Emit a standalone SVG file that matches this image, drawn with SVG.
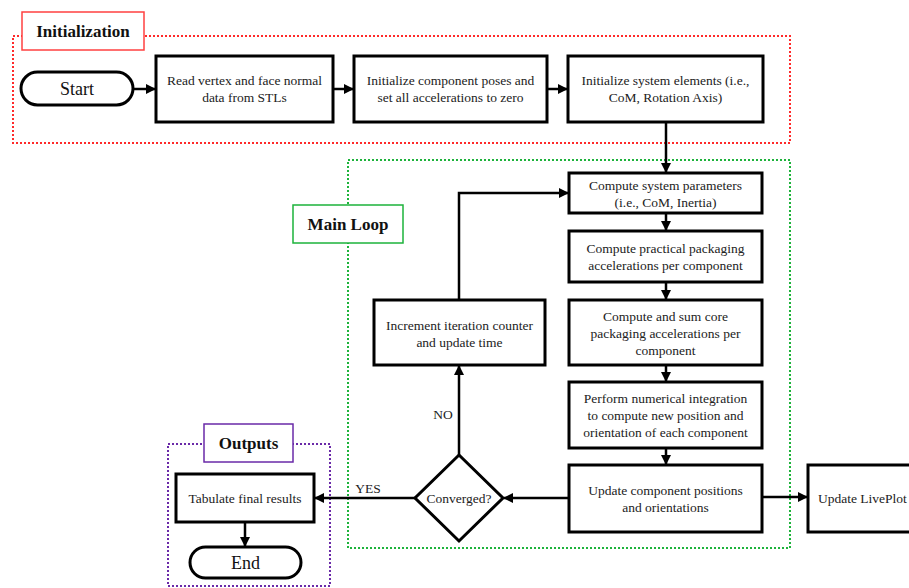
<svg xmlns="http://www.w3.org/2000/svg" width="909" height="588" viewBox="0 0 909 588">
<defs>
<marker id="ah" viewBox="0 0 10 10" refX="9" refY="5" markerWidth="4" markerHeight="4" orient="auto" markerUnits="strokeWidth">
<path d="M0,0 L10,5 L0,10 z" fill="#000"/>
</marker>
<style>
.box{fill:#fff;stroke:#000;stroke-width:3}
.t{font-family:'Liberation Serif','Times New Roman','DejaVu Serif',serif;font-size:13.5px;fill:#222;text-anchor:middle}
.tl{font-family:'Liberation Serif','Times New Roman','DejaVu Serif',serif;font-size:18px;fill:#111;text-anchor:middle}
.ttl{font-family:'Liberation Serif','Times New Roman','DejaVu Serif',serif;font-size:17px;font-weight:bold;fill:#111;text-anchor:middle}
.c{fill:none;stroke:#000;stroke-width:2.5;marker-end:url(#ah)}
.lbl{font-family:'Liberation Serif','Times New Roman','DejaVu Serif',serif;font-size:13.5px;fill:#222;text-anchor:middle}
</style>
</defs>
<rect width="909" height="588" fill="#fff"/>

<g id="groups">
<rect x="13" y="36" width="777" height="107" fill="none" stroke="#ff2a2a" stroke-width="2" stroke-dasharray="2,2"/>
<rect x="348" y="160" width="442" height="388" fill="none" stroke="#1db33b" stroke-width="2" stroke-dasharray="2,2"/>
<rect x="168" y="444" width="162" height="142" fill="none" stroke="#6a2aa8" stroke-width="2" stroke-dasharray="2,2"/>
</g>

<g id="label-init">
<rect x="22" y="12" width="122" height="38" fill="#fff" stroke="#ff4040" stroke-width="1.5"/>
<text class="ttl" x="83" y="37" font-family="Liberation Serif, serif">Initialization</text>
</g>
<g id="label-main">
<rect x="293" y="205" width="110" height="38" fill="#fff" stroke="#1db33b" stroke-width="1.5"/>
<text class="ttl" x="348" y="230" font-family="Liberation Serif, serif">Main Loop</text>
</g>
<g id="label-out">
<rect x="204" y="424" width="89" height="38" fill="#fff" stroke="#6a2aa8" stroke-width="1.5"/>
<text class="ttl" x="248.5" y="449" font-family="Liberation Serif, serif">Outputs</text>
</g>

<g id="connectors">
<path class="c" d="M133,89 L155,89"/>
<path class="c" d="M333,89 L353,89"/>
<path class="c" d="M547,89 L567,89"/>
<path class="c" d="M666,122 L666,172"/>
<path class="c" d="M666,213 L666,230"/>
<path class="c" d="M666,282 L666,299"/>
<path class="c" d="M666,365 L666,381"/>
<path class="c" d="M666,448 L666,464"/>
<path class="c" d="M762,497 L807,497"/>
<path class="c" d="M569,498 L504,498"/>
<path class="c" d="M415,498 L315,498"/>
<path class="c" d="M459,455 L459,366"/>
<path class="c" d="M459,300 L459,193 L568,193"/>
<path class="c" d="M245,522 L245,546"/>
<text class="lbl" x="443" y="419">NO</text>
<text class="lbl" x="368" y="493">YES</text>
</g>

<g id="start">
<rect class="box" x="21" y="72" width="112" height="33" rx="16.5"/>
<text class="tl" x="77" y="95">Start</text>
</g>
<g id="read">
<rect class="box" x="156" y="56" width="177" height="66"/>
<text class="t" x="244.5" y="85">Read vertex and face normal</text>
<text class="t" x="244.5" y="102">data from STLs</text>
</g>
<g id="initpose">
<rect class="box" x="354" y="56" width="193" height="66"/>
<text class="t" x="450.5" y="85">Initialize component poses and</text>
<text class="t" x="450.5" y="102">set all accelerations to zero</text>
</g>
<g id="initsys">
<rect class="box" x="568" y="56" width="195" height="66"/>
<text class="t" x="665.5" y="85">Initialize system elements (i.e.,</text>
<text class="t" x="665.5" y="102">CoM, Rotation Axis)</text>
</g>
<g id="compsys">
<rect class="box" x="569" y="173" width="193" height="40"/>
<text class="t" x="665.5" y="190">Compute system parameters</text>
<text class="t" x="665.5" y="207">(i.e., CoM, Inertia)</text>
</g>
<g id="comppract">
<rect class="box" x="569" y="231" width="193" height="51"/>
<text class="t" x="665.5" y="253">Compute practical packaging</text>
<text class="t" x="665.5" y="270">accelerations per component</text>
</g>
<g id="compcore">
<rect class="box" x="569" y="300" width="193" height="65"/>
<text class="t" x="665.5" y="321">Compute and sum core</text>
<text class="t" x="665.5" y="338">packaging accelerations per</text>
<text class="t" x="665.5" y="355">component</text>
</g>
<g id="integrate">
<rect class="box" x="569" y="382" width="193" height="66"/>
<text class="t" x="665.5" y="403">Perform numerical integration</text>
<text class="t" x="665.5" y="420">to compute new position and</text>
<text class="t" x="665.5" y="437">orientation of each component</text>
</g>
<g id="update">
<rect class="box" x="569" y="465" width="193" height="67"/>
<text class="t" x="665.5" y="495">Update component positions</text>
<text class="t" x="665.5" y="512">and orientations</text>
</g>
<g id="liveplot">
<rect class="box" x="808" y="465" width="110" height="67"/>
<text class="t" x="818" y="503" style="text-anchor:start">Update LivePlot</text>
</g>
<g id="increment">
<rect class="box" x="374" y="300" width="171" height="65"/>
<text class="t" x="459.5" y="330">Increment iteration counter</text>
<text class="t" x="459.5" y="347">and update time</text>
</g>
<g id="converged">
<polygon class="box" points="459,455 503,498 459,541 415,498"/>
<text class="t" x="459" y="503">Converged?</text>
</g>
<g id="tabulate">
<rect class="box" x="176" y="474" width="138" height="48"/>
<text class="t" x="245" y="503">Tabulate final results</text>
</g>
<g id="end">
<rect class="box" x="190" y="547" width="111" height="31" rx="15.5"/>
<text class="tl" x="245.5" y="569">End</text>
</g>
</svg>
